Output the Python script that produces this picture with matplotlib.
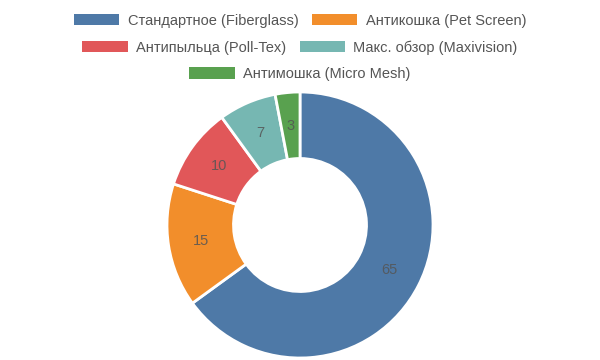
import matplotlib
matplotlib.use("Agg")
import matplotlib.pyplot as plt
from matplotlib.patches import Patch

# --- data ---
labels = ["Стандартное (Fiberglass)", "Антикошка (Pet Screen)",
          "Антипыльца (Poll-Tex)", "Макс. обзор (Maxivision)",
          "Антимошка (Micro Mesh)"]
values = [65, 15, 10, 7, 3]
colors = ["#4e79a7", "#f28e2b", "#e15759", "#76b7b2", "#59a14f"]

plt.rcParams['font.family'] = ['Liberation Sans', 'DejaVu Sans']

fig = plt.figure(figsize=(6, 3.6), dpi=100)
ax = fig.add_axes([167 / 600, 2 / 360, 266 / 600, 266 / 360])

wedges, texts = ax.pie(
    values, colors=colors, startangle=90, counterclock=False,
    labels=[str(v) for v in values], labeldistance=0.75,
    wedgeprops=dict(width=0.5, edgecolor="white", linewidth=2),
    textprops=dict(color="#555555", alpha=0.85, fontsize=10.5),
)
# value labels centred in the ring
for t in texts:
    t.set_horizontalalignment("center")
    t.set_verticalalignment("center")
ax.set_xlim(-1, 1)
ax.set_ylim(-1, 1)
ax.set_aspect("equal")

# legend rows, each centred on its own
rows = [[0, 1], [2, 3], [4]]
row_y = [0.99, 0.917, 0.842]
for idxs, y in zip(rows, row_y):
    handles = [Patch(facecolor=colors[i], edgecolor="none") for i in idxs]
    leg = fig.legend(handles, [labels[i] for i in idxs], loc="upper center",
                     bbox_to_anchor=(0.5, y), ncol=len(idxs), frameon=False,
                     fontsize=10.5, handlelength=3.1, handleheight=0.8,
                     handletextpad=0.6, columnspacing=0.9,
                     borderaxespad=0.3)
    for t in leg.get_texts():
        t.set_color("#555555")

fig.savefig("out.png", dpi=100)
